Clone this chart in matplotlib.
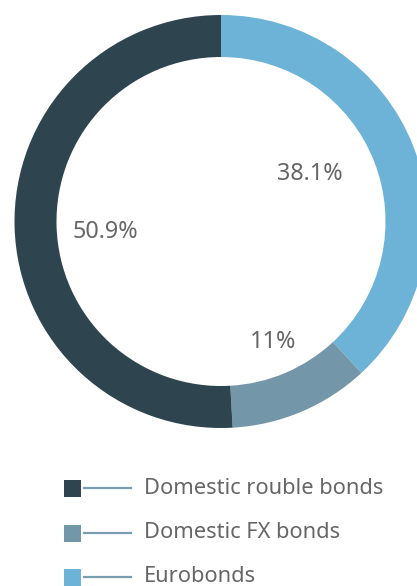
import matplotlib
matplotlib.use("Agg")
import matplotlib.pyplot as plt
from matplotlib.patches import Rectangle

# data (clockwise from 12 o'clock)
categories = ["Eurobonds", "Domestic FX bonds", "Domestic rouble bonds"]
shares = [38.1, 11.0, 50.9]
colors = ["#6cb3d7", "#7396a8", "#2e4550"]

# legend order as in the reference
legend_labels = ["Domestic rouble bonds", "Domestic FX bonds", "Eurobonds"]
legend_colors = ["#2e4550", "#7396a8", "#6cb3d7"]

# layout (pixel space, y up)
W, H = 417, 586
CX, CY = 221, H - 221.5
R_OUT, RING = 206.5, 42
label_pos = [(310, H - 174), (273, H - 342), (105, H - 232)]
TEXT_GREY = "#666666"
FONT = "Noto Sans"

fig = plt.figure(figsize=(W / 100, H / 100), dpi=100)
ax = fig.add_axes([0, 0, 1, 1])

ax.pie(
    shares,
    colors=colors,
    startangle=90,
    counterclock=False,
    center=(CX, CY),
    radius=R_OUT,
    wedgeprops=dict(width=RING, linewidth=0),
    frame=True,
)

for val, (x, y) in zip(shares, label_pos):
    ax.text(x, y, f"{val:g}%", ha="center", va="center",
            fontsize=16.8, color=TEXT_GREY, family=FONT)

# legend
rows_y = [H - 488, H - 533, H - 577]
for lab, col, y in zip(legend_labels, legend_colors, rows_y):
    ax.add_patch(Rectangle((64, y - 8.5), 17, 17, color=col, linewidth=0))
    ax.plot([84, 131], [y, y], color="#7a9db0", linewidth=1.6)
    ax.text(144, y, lab, ha="left", va="center",
            fontsize=15.7, color=TEXT_GREY, family=FONT)

ax.set_xlim(0, W)
ax.set_ylim(0, H)
ax.set_aspect("auto")
ax.axis("off")

fig.savefig("out.png", dpi=100)
